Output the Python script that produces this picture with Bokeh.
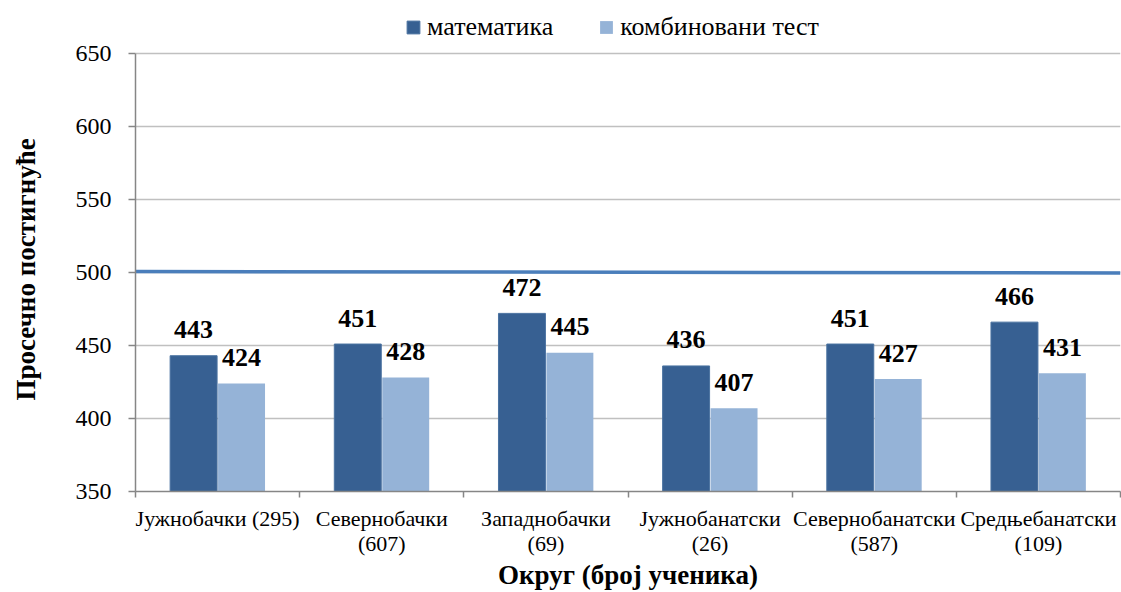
from bokeh.plotting import figure
from bokeh.models import (Range1d, FixedTicker, ColumnDataSource, Legend, LegendItem, Title)
from bokeh.core.properties import value
from bokeh.embed import file_html
from bokeh.resources import INLINE

categories = ["Јужнобачки (295)", "Севернобачки\n(607)", "Западнобачки\n(69)",
              "Јужнобанатски\n(26)", "Севернобанатски\n(587)", "Средњебанатски\n(109)"]
matematika = [443, 451, 472, 436, 451, 466]
kombinovani = [424, 428, 445, 407, 427, 431]
avg_line = [500.7, 499.7]
y_ticks = [350, 400, 450, 500, 550, 600, 650]

SERIF = "Liberation Serif"
DARK = "#376092"
LIGHT = "#95B3D7"

n = len(categories)
centers = [i + 0.5 for i in range(n)]
bw = 0.286
off = 0.146

# frame spans from the top of the canvas; the value axis itself covers 350..650
H, BOTTOM = 592, 101
frame_h = H - BOTTOM
axis_px = 438
y_lo, y_hi = y_ticks[0], y_ticks[-1]
y_top = y_lo + (y_hi - y_lo) * frame_h / axis_px

p = figure(width=1121, height=H, output_backend="svg", toolbar_location=None,
           x_range=Range1d(0, n), y_range=Range1d(y_lo, y_top),
           min_border_left=135, min_border_right=1, min_border_top=0, min_border_bottom=BOTTOM)
p.outline_line_color = None
p.background_fill_color = "white"
p.border_fill_color = "white"

# y axis
p.yaxis.ticker = FixedTicker(ticks=y_ticks)
p.yaxis.bounds = (y_lo, y_hi)
p.yaxis.axis_line_color = "#868686"
p.yaxis.axis_line_width = 1.5
p.yaxis.major_tick_line_color = "#868686"
p.yaxis.major_tick_line_width = 1.5
p.yaxis.major_tick_out = 7
p.yaxis.major_tick_in = 0
p.yaxis.minor_tick_line_color = None
p.yaxis.major_label_text_font = SERIF
p.yaxis.major_label_text_font_size = "24px"
p.yaxis.major_label_text_color = "black"
p.yaxis.major_label_standoff = 17

# y axis title, placed along the 350..650 part of the frame
ytitle = Title(text="Просечно постигнуће\n", align="left", offset=91,
               text_font=SERIF, text_font_style="bold", text_font_size="27px",
               text_color="black", standoff=4)
p.add_layout(ytitle, "left")

# x axis
p.xaxis.ticker = FixedTicker(ticks=centers, minor_ticks=list(range(n + 1)))
p.xaxis.major_label_overrides = {c: lab for c, lab in zip(centers, categories)}
p.xaxis.axis_line_color = "#868686"
p.xaxis.axis_line_width = 1.5
p.xaxis.major_tick_line_color = None
p.xaxis.major_tick_out = 0
p.xaxis.major_tick_in = 0
p.xaxis.minor_tick_line_color = "#868686"
p.xaxis.minor_tick_line_width = 1.5
p.xaxis.minor_tick_out = 6
p.xaxis.minor_tick_in = 0
p.xaxis.major_label_text_font = SERIF
p.xaxis.major_label_text_font_size = "22px"
p.xaxis.major_label_text_line_height = 1.0
p.xaxis.major_label_text_color = "black"
p.xaxis.major_label_standoff = 8
p.xaxis.axis_label = "Округ (број ученика)"
p.xaxis.axis_label_text_font = SERIF
p.xaxis.axis_label_text_font_style = "bold"
p.xaxis.axis_label_text_font_size = "27px"
p.xaxis.axis_label_text_color = "black"
p.xaxis.axis_label_standoff = 1

p.xgrid.grid_line_color = None
p.ygrid.ticker = FixedTicker(ticks=y_ticks)
p.ygrid.grid_line_color = "#C0C0C0"
p.ygrid.grid_line_width = 1.5

src = ColumnDataSource(dict(
    xd=[c - off for c in centers], xl=[c + off for c in centers],
    m=matematika, k=kombinovani,
    mt=[str(v) for v in matematika], kt=[str(v) for v in kombinovani]))

r1 = p.vbar(x="xd", top="m", bottom=y_lo, width=bw, source=src,
            fill_color=DARK, line_color="#4A72A0", line_width=1)
r2 = p.vbar(x="xl", top="k", bottom=y_lo, width=bw, source=src,
            fill_color=LIGHT, line_color=None)

p.line([0, n], avg_line, line_color="#4A7EBB", line_width=3.5)

for xcol, ycol, tcol in (("xd", "m", "mt"), ("xl", "k", "kt")):
    p.text(x=xcol, y=ycol, text=tcol, source=src, text_font=value(SERIF),
           text_font_style="bold", text_font_size="26px", text_color="black",
           text_align="center", text_baseline="alphabetic", y_offset=-26)

legend = Legend(items=[LegendItem(label="математика", renderers=[r1]),
                       LegendItem(label="комбиновани тест", renderers=[r2])],
                location=(270, 449), orientation="horizontal",
                label_text_font=SERIF, label_text_font_size="26px",
                label_text_color="black", glyph_width=16, glyph_height=16,
                label_standoff=6, spacing=45, padding=0, margin=0,
                border_line_color=None, background_fill_alpha=0)
p.add_layout(legend)

open("out.html", "w").write(file_html(p, INLINE))
